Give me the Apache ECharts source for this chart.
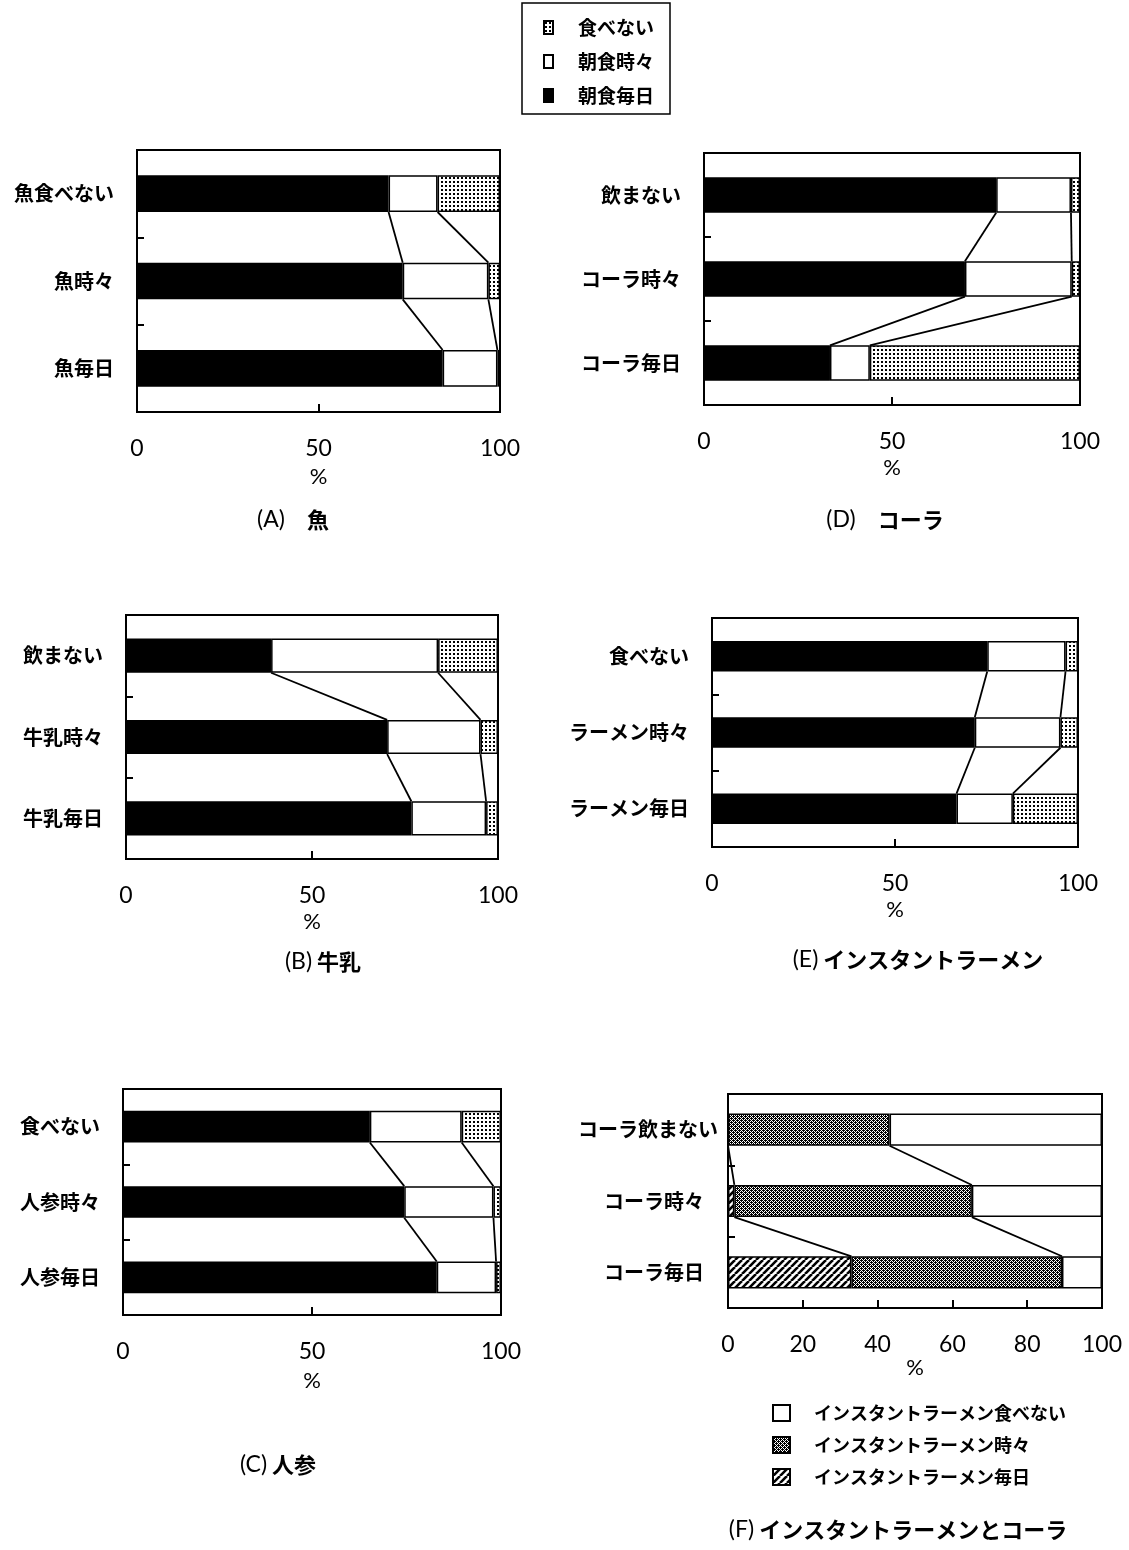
<!DOCTYPE html>
<html>
<head>
<meta charset="utf-8">
<script src="https://cdn.jsdelivr.net/npm/echarts@6/dist/echarts.min.js"></script>
<style>
  html, body { margin: 0; padding: 0; background: #fff; }
  #chart { width: 1129px; height: 1550px; }
</style>
</head>
<body>
<div id="chart"></div>
<script>
// ---- categories (top to bottom) ----
const catFish      = ['魚食べない', '魚時々', '魚毎日'];
const catMilk      = ['飲まない', '牛乳時々', '牛乳毎日'];
const catCarrot    = ['食べない', '人参時々', '人参毎日'];
const catCola      = ['飲まない', 'コーラ時々', 'コーラ毎日'];
const catRamen     = ['食べない', 'ラーメン時々', 'ラーメン毎日'];
const catColaRamen = ['コーラ飲まない', 'コーラ時々', 'コーラ毎日'];

// ---- breakfast habit shares (%) ----
const fishDaily   = [69.3, 73.2, 84.2];
const fishSome    = [13.5, 23.6, 15.1];
const fishNone    = [17.2, 3.2, 0.7];

const milkDaily   = [39.0, 70.2, 76.7];
const milkSome    = [44.9, 25.1, 20.1];
const milkNone    = [16.1, 4.7, 3.2];

const carrotDaily = [65.3, 74.4, 83.0];
const carrotSome  = [24.3, 23.6, 15.7];
const carrotNone  = [10.4, 2.0, 1.3];

const colaDaily   = [77.7, 69.4, 33.5];
const colaSome    = [19.9, 28.4, 10.6];
const colaNone    = [2.4, 2.2, 55.9];

const ramenDaily  = [75.2, 71.8, 66.8];
const ramenSome   = [21.4, 23.4, 15.4];
const ramenNone   = [3.4, 4.8, 17.8];

// ---- instant ramen habit by cola habit (%) ----
const irDaily = [0, 1.7, 33.0];
const irSome  = [43.2, 63.5, 56.3];
const irNone  = [56.8, 34.8, 10.7];

// ---- axis tick steps ----
const tickStepPct = 50;
const tickStepFine = 20;

// ---- legend names ----
const breakfastNames = ['朝食毎日', '朝食時々', '食べない'];
const ramenNames = ['インスタントラーメン毎日', 'インスタントラーメン時々', 'インスタントラーメン食べない'];

// ---- fill patterns ----
function makePattern(w, h, draw) {
  const c = document.createElement('canvas');
  c.width = w; c.height = h;
  const g = c.getContext('2d');
  g.fillStyle = '#fff';
  g.fillRect(0, 0, w, h);
  g.fillStyle = '#000';
  g.strokeStyle = '#000';
  draw(g, w, h);
  return { image: c, repeat: 'repeat' };
}
const dotFill = makePattern(4, 4, g => { g.fillRect(1, 1, 2, 2); });
const meshFill = makePattern(4, 4, g => {
  for (let y = 0; y < 4; y++) for (let x = 0; x < 4; x++) if ((x + y) % 2 === 0) g.fillRect(x, y, 1, 1);
  g.fillRect(1, 0, 1, 1); g.fillRect(3, 2, 1, 1);
});
const hatchFill = makePattern(7, 7, (g, w, h) => {
  g.lineWidth = 2.6;
  g.beginPath();
  for (let k = -1; k <= 1; k++) {
    g.moveTo(k * w, h);
    g.lineTo(k * w + w, 0);
  }
  g.stroke();
});

const CJK = '"Noto Sans CJK JP", "Noto Sans", sans-serif';
const NUM = 'Lato, "Noto Sans CJK JP", sans-serif';

const panels = [
  { cats: catFish,   rows: [fishDaily, fishSome, fishNone],       names: breakfastNames, fills: ['#000', '#fff', dotFill],
    grid: { left: 137, top: 150, width: 363, height: 262 }, step: tickStepPct, barFrac: 0.42, nameGap: 54,
    tag: '(A)', title: '　魚', cx: 293, cy: 520 },
  { cats: catMilk,   rows: [milkDaily, milkSome, milkNone],       names: breakfastNames, fills: ['#000', '#fff', dotFill],
    grid: { left: 126, top: 615, width: 372, height: 244 }, step: tickStepPct, barFrac: 0.42, nameGap: 52,
    tag: '(B)', title: ' 牛乳', cx: 323, cy: 962 },
  { cats: catCarrot, rows: [carrotDaily, carrotSome, carrotNone], names: breakfastNames, fills: ['#000', '#fff', dotFill],
    grid: { left: 123, top: 1089, width: 378, height: 226 }, step: tickStepPct, barFrac: 0.42, nameGap: 55,
    tag: '(C)', title: ' 人参', cx: 278, cy: 1465 },
  { cats: catCola,   rows: [colaDaily, colaSome, colaNone],       names: breakfastNames, fills: ['#000', '#fff', dotFill],
    grid: { left: 704, top: 153, width: 376, height: 252 }, step: tickStepPct, barFrac: 0.42, nameGap: 52,
    tag: '(D)', title: '　コーラ', cx: 885, cy: 520 },
  { cats: catRamen,  rows: [ramenDaily, ramenSome, ramenNone],    names: breakfastNames, fills: ['#000', '#fff', dotFill],
    grid: { left: 712, top: 618, width: 366, height: 229 }, step: tickStepPct, barFrac: 0.40, nameGap: 52,
    tag: '(E)', title: ' インスタントラーメン', cx: 918, cy: 960 },
  { cats: catColaRamen, rows: [irDaily, irSome, irNone],          names: ramenNames,     fills: [hatchFill, meshFill, '#fff'],
    grid: { left: 728, top: 1094, width: 374, height: 214 }, step: tickStepFine, barFrac: 0.45, nameGap: 46,
    tag: '(F)', title: ' インスタントラーメンとコーラ', cx: 898, cy: 1530, shiftLabels: true }
];

const grids = [], xAxes = [], yAxes = [], series = [], graphics = [];
const labelStyle = { color: '#000', fontSize: 20, fontWeight: 'bold', fontFamily: CJK };

panels.forEach((p, i) => {
  grids.push(Object.assign({ show: true, borderColor: '#000', borderWidth: 2, backgroundColor: '#fff' }, p.grid));

  xAxes.push({
    gridIndex: i, type: 'value', min: 0, max: 100, interval: p.step,
    axisLine: { show: true, lineStyle: { color: '#000', width: 2 } },
    axisTick: { show: true, inside: true, length: 8, lineStyle: { color: '#000', width: 2 } },
    splitLine: { show: false },
    axisLabel: { color: '#000', fontFamily: NUM, fontSize: 23, margin: 25 },
    name: '%', nameLocation: 'middle', nameGap: p.nameGap,
    nameTextStyle: { color: '#000', fontFamily: NUM, fontSize: 22 }
  });

  yAxes.push({
    gridIndex: i, type: 'category', data: p.cats, inverse: true,
    axisLine: { show: true, lineStyle: { color: '#000', width: 2 } },
    axisTick: { show: true, inside: true, length: 7, lineStyle: { color: '#000', width: 2 } },
    axisLabel: p.shiftLabels ? Object.assign({}, labelStyle, {
      margin: 10,
      formatter: (v, idx) => idx === 0 ? '{a|' + v + '}' : '{b|' + v + '}',
      rich: {
        a: Object.assign({}, labelStyle),
        b: Object.assign({}, labelStyle, { padding: [0, 14, 0, 0] })
      }
    }) : Object.assign({}, labelStyle, { margin: 23 })
  });

  const barWidth = Math.round(p.barFrac * 100) + '%';
  p.rows.forEach((vals, k) => {
    series.push({
      type: 'bar', name: p.names[k], stack: 'panel' + i,
      xAxisIndex: i, yAxisIndex: i, data: vals, barWidth: barWidth,
      itemStyle: { color: p.fills[k], borderColor: '#000', borderWidth: 1.5 },
      emphasis: { disabled: true }, silent: true, animation: false
    });
  });

  // series lines joining the running totals of neighbouring bars
  const links = [];
  const running = p.cats.map(() => 0);
  for (let k = 0; k < p.rows.length - 1; k++) {
    p.rows[k].forEach((v, c) => { running[c] += v; });
    for (let c = 0; c < p.cats.length - 1; c++) {
      links.push([running[c], c, running[c + 1], c + 1]);
    }
  }
  const half = p.barFrac / 2;
  series.push({
    type: 'custom', xAxisIndex: i, yAxisIndex: i, data: links,
    encode: { x: [0, 2], y: [1, 3] }, silent: true, animation: false, z: 5,
    renderItem: (params, api) => {
      const a = api.coord([api.value(0), api.value(1)]);
      const b = api.coord([api.value(2), api.value(3)]);
      const band = api.size([0, 1])[1];
      const dir = b[1] > a[1] ? 1 : -1;
      return {
        type: 'line',
        shape: { x1: a[0], y1: a[1] + dir * band * half, x2: b[0], y2: b[1] - dir * band * half },
        style: { stroke: '#000', lineWidth: 1.8 }
      };
    }
  });

  graphics.push({
    type: 'text', x: p.cx, y: p.cy,
    style: {
      text: '{n|' + p.tag + '}{j|' + p.title + '}',
      align: 'center', verticalAlign: 'middle',
      rich: {
        n: { fontSize: 23, fontFamily: NUM, fill: '#000' },
        j: { fontSize: 22, fontFamily: CJK, fontWeight: 'bold', fill: '#000' }
      }
    }
  });
});

const chart = echarts.init(document.getElementById('chart'), null, { renderer: 'canvas' });
chart.setOption({
  backgroundColor: '#fff',
  animation: false,
  grid: grids,
  xAxis: xAxes,
  yAxis: yAxes,
  series: series,
  graphic: graphics,
  legend: [
    {
      data: breakfastNames.slice().reverse(), orient: 'vertical', left: 522, top: 3,
      icon: 'rect', itemWidth: 9, itemHeight: 13, itemGap: 15,
      padding: [15, 16, 9, 21], borderColor: '#000', borderWidth: 1.5,
      selectedMode: false,
      formatter: '{t|{name}}',
      textStyle: { rich: { t: { fontSize: 19, fontWeight: 'bold', fontFamily: CJK, color: '#000', padding: [0, 0, 0, 20] } } }
    },
    {
      data: ramenNames.slice().reverse(), orient: 'vertical', left: 767, top: 1399,
      icon: 'rect', itemWidth: 17, itemHeight: 16, itemGap: 14,
      selectedMode: false,
      formatter: '{t|{name}}',
      textStyle: { rich: { t: { fontSize: 18, fontWeight: 'bold', fontFamily: CJK, color: '#000', padding: [0, 0, 0, 19] } } }
    }
  ]
});
</script>
</body>
</html>
